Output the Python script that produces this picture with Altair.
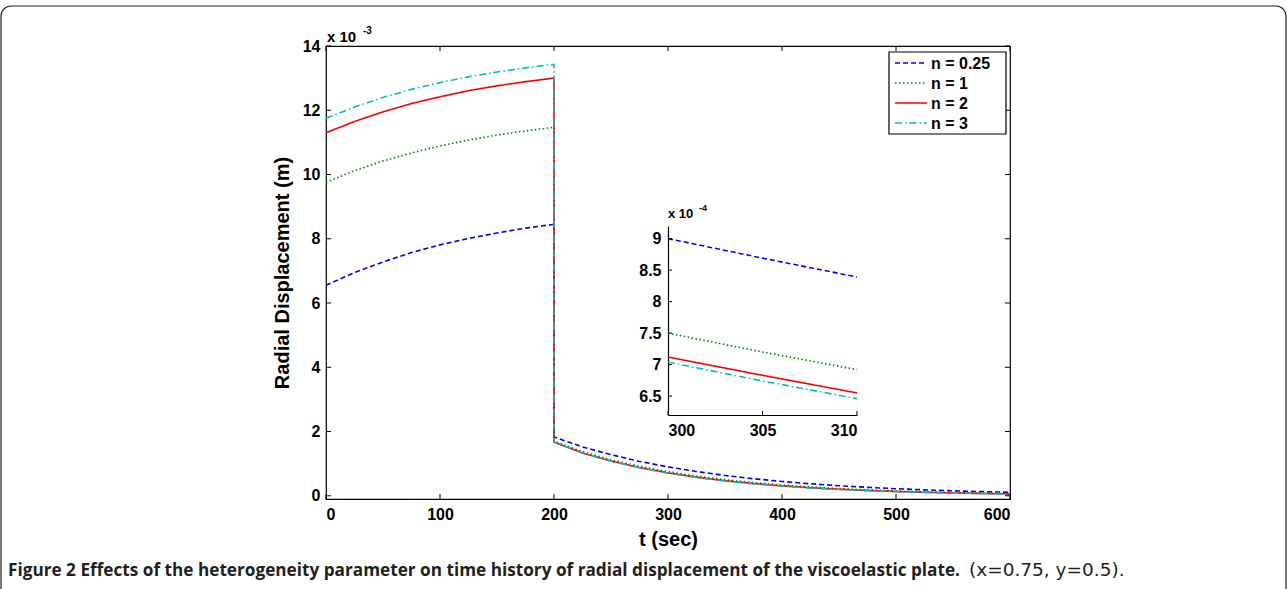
import altair as alt
import pandas as pd

SERIES = ["n = 0.25", "n = 1", "n = 2", "n = 3"]
COLORS = ["#0000ff", "#008000", "#ff0000", "#00bfbf"]
DASHES = [[5, 3], [1.5, 2.5], [1, 0], [7, 3, 1.5, 3]]

# Main panel (values in units of 1e-3 m)
t_rise = [0, 25, 50, 75, 100, 125, 150, 175, 200]
rise_025 = [6.55, 6.95, 7.28, 7.57, 7.81, 8.01, 8.18, 8.33, 8.45]
rise_1 = [9.76, 10.12, 10.42, 10.67, 10.89, 11.07, 11.23, 11.36, 11.47]
rise_2 = [11.30, 11.65, 11.95, 12.21, 12.42, 12.61, 12.76, 12.89, 13.00]
rise_3 = [11.75, 12.10, 12.40, 12.65, 12.86, 13.04, 13.19, 13.32, 13.43]

t_decay = [200, 225, 250, 275, 300, 325, 350, 375, 400, 425, 450, 475, 500, 525, 550, 575, 600]
decay_025 = [1.83, 1.52, 1.28, 1.07, 0.90, 0.755, 0.633, 0.531, 0.446, 0.374, 0.314, 0.263, 0.221, 0.185, 0.155, 0.130, 0.109]
decay_1 = [1.70, 1.37, 1.12, 0.917, 0.750, 0.613, 0.501, 0.410, 0.335, 0.274, 0.224, 0.183, 0.150, 0.123, 0.100, 0.082, 0.067]
decay_2 = [1.67, 1.33, 1.08, 0.877, 0.712, 0.578, 0.469, 0.381, 0.309, 0.251, 0.204, 0.166, 0.134, 0.109, 0.089, 0.072, 0.058]
decay_3 = [1.68, 1.34, 1.08, 0.873, 0.704, 0.568, 0.458, 0.369, 0.298, 0.240, 0.194, 0.156, 0.126, 0.102, 0.082, 0.066, 0.053]

# Inset (values in units of 1e-4 m)
t_inset = [300, 305, 310]
inset_025 = [9.00, 8.69, 8.39]
inset_1 = [7.50, 7.20, 6.92]
inset_2 = [7.12, 6.83, 6.55]
inset_3 = [7.04, 6.74, 6.46]

x_ticks = [0, 100, 200, 300, 400, 500, 600]
y_ticks = [0, 2, 4, 6, 8, 10, 12, 14]
inset_x_ticks = [300, 305, 310]
inset_y_ticks = [6.5, 7, 7.5, 8, 8.5, 9]

FONT = "Liberation Sans"

rows = []
for s, r, d in zip(SERIES, [rise_025, rise_1, rise_2, rise_3], [decay_025, decay_1, decay_2, decay_3]):
    i = 0
    for t, v in zip(t_rise, r):
        rows.append({"series": s, "t": t, "v": v, "idx": i}); i += 1
    for t, v in zip(t_decay, d):
        rows.append({"series": s, "t": t, "v": v, "idx": i}); i += 1
main_df = pd.DataFrame(rows)

irows = []
for s, vals in zip(SERIES, [inset_025, inset_1, inset_2, inset_3]):
    for i, (t, v) in enumerate(zip(t_inset, vals)):
        irows.append({"series": s, "t": t, "v": v, "idx": i})
inset_df = pd.DataFrame(irows)

leg_df = pd.DataFrame({"series": SERIES, "row": list(range(len(SERIES)))})

W, H = 684, 453

xs = alt.Scale(domain=[0, 600], nice=False, zero=False)
ys = alt.Scale(domain=[-0.1, 14], nice=False, zero=False)
cs = alt.Scale(domain=SERIES, range=COLORS)
ds = alt.Scale(domain=SERIES, range=DASHES)

x_axis = alt.Axis(values=x_ticks, orient="bottom", title="t (sec)", ticks=False, domain=False,
                  labelPadding=7, titlePadding=7, titleFontSize=20)
y_axis = alt.Axis(values=y_ticks, orient="left", title="Radial Displacement (m)", ticks=False,
                  domain=False, labelPadding=6, titlePadding=10, titleFontSize=20)

main_lines = alt.Chart(main_df).mark_line(strokeWidth=1.6).encode(
    x=alt.X("t:Q", scale=xs, axis=x_axis),
    y=alt.Y("v:Q", scale=ys, axis=y_axis),
    color=alt.Color("series:N", scale=cs, legend=None),
    strokeDash=alt.StrokeDash("series:N", scale=ds, legend=None),
    order="idx:Q",
)

xt_df = pd.DataFrame({"t": x_ticks})
yt_df = pd.DataFrame({"v": y_ticks})
tick_b = alt.Chart(xt_df).mark_rule(color="black").encode(
    x=alt.X("t:Q", scale=xs, axis=x_axis), y=alt.value(H), y2=alt.value(H - 5))
tick_t = alt.Chart(xt_df).mark_rule(color="black").encode(
    x=alt.X("t:Q", scale=xs, axis=x_axis), y=alt.value(0), y2=alt.value(5))
tick_l = alt.Chart(yt_df).mark_rule(color="black").encode(
    y=alt.Y("v:Q", scale=ys, axis=y_axis), x=alt.value(0), x2=alt.value(5))
tick_r = alt.Chart(yt_df).mark_rule(color="black").encode(
    y=alt.Y("v:Q", scale=ys, axis=y_axis), x=alt.value(W), x2=alt.value(W - 5))

main_layer = alt.layer(main_lines, tick_b, tick_t, tick_l, tick_r)

# inset
IX0, IX1 = 342, 531
IY0, IY1 = 369, 180
ixs = alt.Scale(domain=[300, 310], range=[IX0, IX1], nice=False, zero=False)
iys = alt.Scale(domain=[6.2, 9.2], range=[IY0, IY1], nice=False, zero=False)
ix_axis = alt.Axis(values=inset_x_ticks, orient="bottom", offset=-(H - IY0), title=None, ticks=False,
                   domain=True, domainColor="black", domainWidth=1.2, labelPadding=7, format="d")
iy_axis = alt.Axis(values=inset_y_ticks, orient="left", offset=-IX0, title=None, ticks=False,
                   domain=True, domainColor="black", domainWidth=1.2, labelPadding=7, format="~g")

inset_lines = alt.Chart(inset_df).mark_line(strokeWidth=1.6).encode(
    x=alt.X("t:Q", scale=ixs, axis=ix_axis),
    y=alt.Y("v:Q", scale=iys, axis=iy_axis),
    color=alt.Color("series:N", scale=cs, legend=None),
    strokeDash=alt.StrokeDash("series:N", scale=ds, legend=None),
    order="idx:Q",
)
ixt_df = pd.DataFrame({"t": inset_x_ticks})
iyt_df = pd.DataFrame({"v": inset_y_ticks})
itick_x = alt.Chart(ixt_df).mark_rule(color="black").encode(
    x=alt.X("t:Q", scale=ixs, axis=ix_axis), y=alt.value(IY0), y2=alt.value(IY0 - 4))
itick_y = alt.Chart(iyt_df).mark_rule(color="black").encode(
    y=alt.Y("v:Q", scale=iys, axis=iy_axis), x=alt.value(IX0), x2=alt.value(IX0 + 4))
inset_layer = alt.layer(inset_lines, itick_x, itick_y)

one = pd.DataFrame({"a": [0]})


def txt(text, x, y, size, weight="bold", font=FONT, color="black"):
    return alt.Chart(one).mark_text(
        text=text, align="left", baseline="alphabetic", font=font,
        fontSize=size, fontWeight=weight, color=color
    ).encode(x=alt.value(x), y=alt.value(y))


# legend (drawn by hand: box, line samples, labels)
LX, LY, LW, LH = 563, 6, 117, 82
leg_box = alt.Chart(one).mark_rect(fill="white", stroke="black", strokeWidth=1.2).encode(
    x=alt.value(LX), x2=alt.value(LX + LW), y=alt.value(LY), y2=alt.value(LY + LH))
leg_layers = [leg_box]
for i, s in enumerate(SERIES):
    sub = leg_df[leg_df["series"] == s]
    yy = LY + 11 + 20 * i
    leg_layers.append(alt.Chart(sub).mark_rule(strokeWidth=1.6).encode(
        x=alt.value(LX + 6), x2=alt.value(LX + 38), y=alt.value(yy),
        color=alt.Color("series:N", scale=cs, legend=None),
        strokeDash=alt.StrokeDash("series:N", scale=ds, legend=None)))
    leg_layers.append(alt.Chart(sub).mark_text(
        align="left", baseline="middle", font=FONT, fontSize=16, fontWeight="bold", color="black"
    ).encode(x=alt.value(LX + 42), y=alt.value(yy + 1), text="series:N"))

mult_main = txt("x 10", 1, -4, 15)
mult_main_sup = txt("-3", 37, -12, 10)
mult_inset = txt("x 10", IX0, IY1 - 8, 13)
mult_inset_sup = txt("-4", IX0 + 31, IY1 - 15, 9)

caption_b = txt("Figure 2 Effects of the heterogeneity parameter on time history of radial displacement of the viscoelastic plate.",
                -318, 530, 17.2, font="Open Sans", color="#231f20")
caption_r = txt("(x=0.75, y=0.5).", 643, 530, 18.5, weight="normal", font="DejaVu Sans", color="#231f20")

frame = alt.Chart(one).mark_rect(
    fillOpacity=0, stroke="#231f20", strokeWidth=1.2, cornerRadius=10
).encode(x=alt.value(-325), x2=alt.value(1286 - 326), y=alt.value(-40), y2=alt.value(600 - 46))

chart = alt.layer(
    main_layer, inset_layer, *leg_layers,
    mult_main, mult_main_sup, mult_inset, mult_inset_sup, caption_b, caption_r, frame
).resolve_scale(x="independent", y="independent").properties(
    width=W, height=H,
    autosize=alt.AutoSizeParams(type="none"),
    padding={"left": 326, "top": 46, "right": 1287 - 326 - W, "bottom": 589 - 46 - H},
    background="white",
).configure_view(
    stroke="black", strokeWidth=1.2
).configure_axis(
    grid=False, labelFont=FONT, labelFontSize=16, labelFontWeight="bold", labelColor="black",
    titleFont=FONT, titleFontWeight="bold", titleColor="black",
)

chart.save("out.html", embed_options={"renderer": "svg", "actions": False})
